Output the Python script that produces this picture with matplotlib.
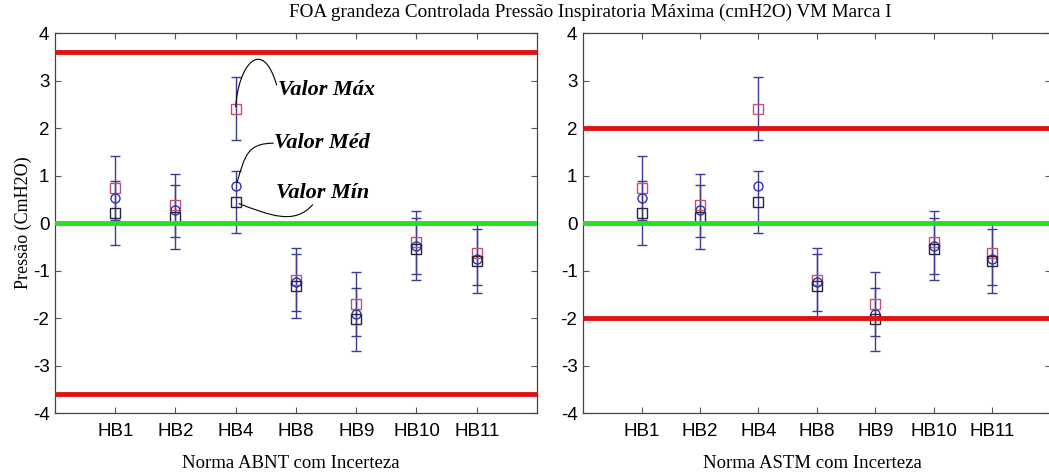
import matplotlib
matplotlib.use("Agg")
import matplotlib.pyplot as plt
import numpy as np
from matplotlib.path import Path
from matplotlib.patches import PathPatch

categories = ["HB1", "HB2", "HB4", "HB8", "HB9", "HB10", "HB11"]
valor_max = [0.74, 0.37, 2.41, -1.19, -1.70, -0.41, -0.64]
valor_med = [0.53, 0.27, 0.78, -1.24, -1.91, -0.49, -0.75]
valor_min = [0.21, 0.13, 0.44, -1.33, -2.03, -0.55, -0.80]
incerteza = [0.68, 0.67, 0.66, 0.67, 0.67, 0.66, 0.67]
limite_abnt = 3.6
limite_astm = 2.0
titulo = "FOA grandeza Controlada Pressão Inspiratoria Máxima (cmH2O) VM Marca I"
xlabels = ["Norma ABNT com Incerteza", "Norma ASTM com Incerteza"]
ylabel = "Pressão (CmH2O)"

SERIF = "Liberation Serif"
SANS = "Liberation Sans"
ERR_C = "#3c3c96"
MAX_C = "#c8506e"
MED_C = "#3232a8"
MIN_C = "#262636"

fig = plt.figure(figsize=(10.49, 4.75), dpi=100)
ax1 = fig.add_axes([0.0524, 0.1305, 0.4595, 0.80])
ax2 = fig.add_axes([0.5558, 0.1305, 0.4460, 0.80])

x = np.arange(1, len(categories) + 1)

for ax, lim in ((ax1, limite_abnt), (ax2, limite_astm)):
    ax.errorbar(x, valor_max, yerr=incerteza, fmt="none", ecolor=ERR_C,
                elinewidth=1.0, capsize=3.5, capthick=1.0, zorder=2)
    ax.errorbar(x, valor_min, yerr=incerteza, fmt="none", ecolor=ERR_C,
                elinewidth=1.0, capsize=3.5, capthick=1.0, zorder=2)
    ax.plot(x, valor_max, linestyle="none", marker="s", markersize=7,
            markerfacecolor="none", markeredgecolor=MAX_C, markeredgewidth=1.0, zorder=3)
    ax.plot(x, valor_med, linestyle="none", marker="o", markersize=6.5,
            markerfacecolor="none", markeredgecolor=MED_C, markeredgewidth=1.0, zorder=3)
    ax.plot(x, valor_min, linestyle="none", marker="s", markersize=7,
            markerfacecolor="none", markeredgecolor=MIN_C, markeredgewidth=1.0, zorder=3)
    ax.axhline(lim, color="#dc1414", linewidth=3.5, zorder=4)
    ax.axhline(-lim, color="#dc1414", linewidth=3.5, zorder=4)
    ax.axhline(0, color="#22e022", linewidth=3.5, zorder=4)
    ax.set_xlim(0, 8)
    ax.set_ylim(-4, 4)
    ax.set_xticks(x)
    ax.set_xticklabels(categories, fontfamily=SANS, fontsize=13.5)
    ax.set_yticks(np.arange(-4, 5, 1))
    ax.set_yticklabels([str(v) for v in range(-4, 5)], fontfamily=SANS, fontsize=13.5)
    ax.tick_params(direction="in", top=True, right=True, length=4, width=0.8,
                   color="#555555", pad=4)
    ax.tick_params(axis="x", pad=7)
    for s in ax.spines.values():
        s.set_color("#444444")
        s.set_linewidth(0.9)

ax2.spines["right"].set_visible(False)

ax1.set_xlabel(xlabels[0], fontfamily=SERIF, fontsize=13.5, va="center")
ax2.set_xlabel(xlabels[1], fontfamily=SERIF, fontsize=13.5, va="center")
ax1.xaxis.set_label_coords(0.49, -0.132)
ax2.xaxis.set_label_coords(0.49, -0.132)
ax1.set_ylabel(ylabel, fontfamily=SERIF, fontsize=13, va="center")
ax1.yaxis.set_label_coords(-0.066, 0.5)
fig.text(0.5625, 0.975, titulo, ha="center", va="center", fontfamily=SERIF, fontsize=13.8)

# annotations on left chart (HB4)
i4 = categories.index("HB4")
xa = x[i4]
txt_kw = dict(fontfamily=SERIF, fontstyle="italic", fontweight="bold",
              fontsize=16, ha="left", va="center")
ax1.text(3.70, 2.79, "Valor Máx", **txt_kw)
ax1.text(3.63, 1.68, "Valor Méd", **txt_kw)
ax1.text(3.67, 0.63, "Valor Mín", **txt_kw)

curves = [
    [(xa, valor_max[i4] + 0.03), (3.04, 3.32), (3.44, 3.95), (3.68, 2.90)],
    [(xa + 0.02, valor_med[i4] + 0.06), (3.15, 1.43), (3.20, 1.68), (3.63, 1.68)],
    [(xa + 0.05, valor_min[i4] - 0.03), (3.57, 0.16), (3.98, -0.05), (4.28, 0.39)],
]
for pts in curves:
    p = Path(pts, [Path.MOVETO, Path.CURVE4, Path.CURVE4, Path.CURVE4])
    ax1.add_patch(PathPatch(p, facecolor="none", edgecolor="black", linewidth=0.8, zorder=5))

fig.savefig("out.png", dpi=100, facecolor="white")
